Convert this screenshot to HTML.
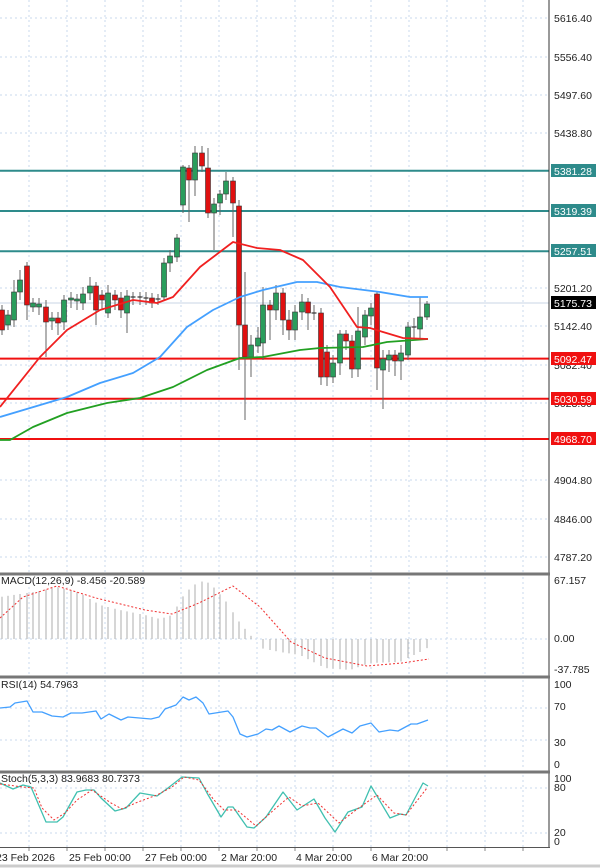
<!DOCTYPE html>
<html><head><meta charset="utf-8"><style>
html,body{margin:0;padding:0;background:#fff;}
svg{display:block;font-family:"Liberation Sans","DejaVu Sans",sans-serif;}
</style></head><body>
<svg id="s" width="600" height="868" viewBox="0 0 600 868" xmlns="http://www.w3.org/2000/svg">
<rect x="0" y="0" width="600" height="868" fill="#fff"/>
<g id="g"></g>
<g font-size="10.5" fill="#222">
<text x="554" y="22">5616.40</text>
<text x="554" y="61">5556.40</text>
<text x="554" y="99">5497.60</text>
<text x="554" y="137">5438.80</text>
<text x="554" y="292">5201.20</text>
<text x="554" y="330">5142.40</text>
<text x="554" y="369">5082.40</text>
<text x="554" y="407">5023.60</text>
<text x="554" y="484">4904.80</text>
<text x="554" y="523">4846.00</text>
<text x="554" y="561">4787.20</text>
</g>
<g font-size="10.5">
<rect x="551" y="164" width="45" height="13" fill="#2e8b8b"/><text x="554" y="175" fill="#fff">5381.28</text>
<rect x="551" y="204" width="45" height="13" fill="#2e8b8b"/><text x="554" y="215" fill="#fff">5319.39</text>
<rect x="551" y="244" width="45" height="13" fill="#2e8b8b"/><text x="554" y="255" fill="#fff">5257.51</text>
<rect x="551" y="296" width="45" height="13" fill="#000"/><text x="554" y="307" fill="#fff">5175.73</text>
<rect x="551" y="352" width="45" height="13" fill="#f01010"/><text x="554" y="363" fill="#fff">5092.47</text>
<rect x="551" y="392" width="45" height="13" fill="#f01010"/><text x="554" y="403" fill="#fff">5030.59</text>
<rect x="551" y="432" width="45" height="13" fill="#f01010"/><text x="554" y="443" fill="#fff">4968.70</text>
</g>
<g font-size="10.5" fill="#222">
<text x="554" y="584">67.157</text>
<text x="554" y="642">0.00</text>
<text x="554" y="673">-37.785</text>
<text x="554" y="688">100</text>
<text x="554" y="710">70</text>
<text x="554" y="746">30</text>
<text x="554" y="768">0</text>
<text x="554" y="782">100</text>
<text x="554" y="791">80</text>
<text x="554" y="836">20</text>
<text x="554" y="845">0</text>
<text x="1" y="584">MACD(12,26,9) -8.456 -20.589</text>
<text x="1" y="688">RSI(14) 54.7963</text>
<text x="1" y="782">Stoch(5,3,3) 83.9683 80.7373</text>
<text x="-4" y="861">23 Feb 2026</text>
<text x="69" y="861">25 Feb 00:00</text>
<text x="145" y="861">27 Feb 00:00</text>
<text x="221" y="861">2 Mar 20:00</text>
<text x="296" y="861">4 Mar 20:00</text>
<text x="372" y="861">6 Mar 20:00</text>
</g>
</svg>
<script>
var g=document.getElementById('g');var h='';
function L(x1,y1,x2,y2,c,w,d){h+='<line x1="'+x1+'" y1="'+y1+'" x2="'+x2+'" y2="'+y2+'" stroke="'+c+'" stroke-width="'+(w||1)+'"'+(d?' stroke-dasharray="'+d+'"':'')+'/>';}
function P(pts,c,w,d){h+='<polyline fill="none" points="'+pts.map(function(p){return p.join(',')}).join(' ')+'" stroke="'+c+'" stroke-width="'+(w||1)+'"'+(d?' stroke-dasharray="'+d+'"':'')+' stroke-linejoin="round"/>';}
var gc='#c8d8ec';
// vertical grid
for(var x=29;x<549;x+=38){L(x,0,x,572,gc,1,'2,3');L(x,577,x,675,gc,1,'2,3');L(x,680,x,770,gc,1,'2,3');L(x,775,x,847,gc,1,'2,3');}
[18,57,95,133,288,326,365,403,480,519,557].forEach(function(y){L(0,y,549,y,gc,1,'2,3');});
L(0,639,549,639,gc,1,'2,3');L(0,708,549,708,gc,1,'2,3');L(0,740,549,740,gc,1,'2,3');
L(0,788,549,788,gc,1,'2,3');L(0,833,549,833,gc,1,'2,3');
// level lines
L(0,303,549,303,'#c8d4e4',1);
[170.8,211,251.3].forEach(function(y){L(0,y,549,y,'#2e8b8b',2);});
[358.6,398.8,439].forEach(function(y){L(0,y,549,y,'#f01010',2);});
// candles [x,o,c,h,l]
var C=[[2,310,330,305,335],[8,325,315,310,330],[14,320,292,280,327],[20,292,280,270,300],[27,266,305,262,320],[33,307,303,298,312],[39,307,304,298,315],[46,307,322,300,357],[52,321,318,312,330],[58,318,323,312,335],[64,322,300,295,330],[71,300,298,292,308],[77,301,299,294,310],[83,303,294,287,310],[90,293,286,277,300],[96,286,310,282,325],[102,295,300,290,310],[108,313,293,285,318],[115,295,300,290,310],[121,298,310,292,318],[127,313,296,290,333],[133,297,297,292,305],[140,297,297,292,305],[146,298,298,292,305],[152,298,303,293,308],[158,299,299,294,305],[164,297,263,258,300],[170,263,256,250,272],[177,257,238,234,262],[183,205,167,165,213],[189,168,180,165,222],[195,180,153,146,196],[202,153,166,146,172],[208,168,213,148,218],[214,213,204,198,250],[220,203,194,190,215],[226,194,181,172,200],[233,181,203,177,237],[239,206,325,200,370],[245,325,357,272,420],[251,357,345,335,377],[258,346,338,327,353],[263,343,305,287,360],[270,305,310,300,340],[276,310,293,285,320],[283,293,320,288,335],[289,320,330,310,340],[295,330,312,305,340],[302,312,302,294,320],[308,302,313,298,330],[314,313,313,305,320],[321,313,377,308,385],[327,352,377,345,386],[333,377,363,355,383],[340,363,334,330,375],[346,334,341,330,350],[352,341,369,335,378],[358,369,331,307,377],[365,337,315,310,345],[371,316,308,303,325],[377,294,368,292,390],[383,370,359,350,409],[389,360,355,350,372],[395,355,361,350,376],[401,361,353,345,380],[408,355,327,322,360],[414,327,327,318,338],[420,329,317,297,338],[427,317,304,301,320]];
C.forEach(function(c){var x=c[0],up=c[2]<c[1];L(x,c[3],x,c[4],'#666',1);var t=Math.min(c[1],c[2]),b=Math.max(c[1],c[2]);if(b-t<1.5){L(x-2.5,t,x+2.5,t,'#333',1.2);}else h+='<rect x="'+(x-2.5)+'" y="'+t+'" width="5" height="'+(b-t)+'" fill="'+(up?'#2a9d5c':'#e01010')+'" stroke="#333" stroke-width="0.6"/>';});
// MAs
P([[0,440],[10,440],[33,427],[67,413],[107,403],[140,398],[173,387],[207,370],[240,358],[263,357],[300,350],[320,348],[363,347],[387,342],[428,339]],'#22a022',1.8);
P([[0,417],[67,397],[100,383],[133,373],[160,357],[187,327],[213,310],[240,297],[263,290],[297,282],[317,282],[340,287],[380,292],[410,297],[428,297]],'#44a0ff',1.8);
P([[0,407],[40,357],[67,330],[100,310],[133,300],[157,303],[173,297],[200,267],[233,242],[257,248],[280,250],[303,260],[330,287],[357,327],[370,328],[383,332],[403,338],[428,339]],'#f02020',1.8);
// MACD hist
var HK=[[0,597],[40,591],[57,587],[80,593],[100,605],[120,610],[145,615],[160,619],[172,615],[185,593],[199,581],[210,583],[225,600],[240,623],[252,637],[258,639],[260,648],[280,652],[300,655],[325,668],[350,670],[370,663],[400,662],[420,652],[429,647]];
function interp(a,x){for(var i=0;i<a.length-1;i++){if(x>=a[i][0]&&x<=a[i+1][0]){var t=(x-a[i][0])/(a[i+1][0]-a[i][0]);return a[i][1]+t*(a[i+1][1]-a[i][1]);}}return a[a.length-1][1];}
for(var i=0;i<C.length;i++){var x=C[i][0];L(x,639,x,interp(HK,x),'#c0c0c0',1.3);}
P([[0,618],[23,597],[57,586],[96,598],[145,610],[172,614],[199,603],[233,586],[260,607],[291,642],[325,658],[367,666],[402,663],[429,659]],'#f03030',1,'2,2');
// RSI
P([[0,708],[10,707],[15,703],[27,701],[33,712],[42,712],[52,716],[63,717],[71,713],[82,713],[96,711],[101,719],[109,714],[121,720],[128,717],[151,719],[159,717],[165,709],[176,705],[183,697],[189,700],[196,697],[203,703],[209,714],[228,711],[233,717],[240,734],[247,737],[258,734],[266,729],[272,730],[279,726],[290,732],[302,726],[310,728],[316,728],[328,737],[343,729],[352,733],[360,726],[371,723],[379,732],[390,730],[398,731],[411,724],[417,724],[428,720]],'#44a0ff',1.3);
// Stoch
P([[0,783],[13,789],[23,785],[31,787],[46,822],[57,822],[63,817],[77,792],[86,790],[94,790],[101,798],[115,811],[126,808],[140,793],[157,796],[168,788],[182,777],[199,778],[207,793],[221,817],[228,807],[233,807],[247,827],[254,828],[266,817],[283,792],[297,810],[314,799],[325,818],[335,832],[348,812],[362,807],[371,786],[390,818],[400,814],[406,815],[423,783],[428,786]],'#40c0b0',1.3);
P([[0,784],[23,787],[34,788],[42,808],[54,820],[65,813],[77,800],[92,790],[111,803],[122,809],[138,802],[157,795],[172,787],[184,777],[199,780],[214,800],[224,810],[237,810],[256,826],[276,808],[289,797],[302,806],[318,803],[339,823],[356,810],[377,795],[394,813],[406,815],[427,788]],'#f03030',1,'2,2');
// frames
L(549,0,549,848,'#333',1);
L(0,574,550,574,'#777',3);L(0,677,550,677,'#777',3);L(0,772,550,772,'#777',3);L(0,847.5,550,847.5,'#555',1);
L(0,866,600,866,'#ccc',3);
for(var x=29;x<549;x+=38)L(x,848,x,851,'#888',1);
g.innerHTML=h;
</script>
</body></html>
